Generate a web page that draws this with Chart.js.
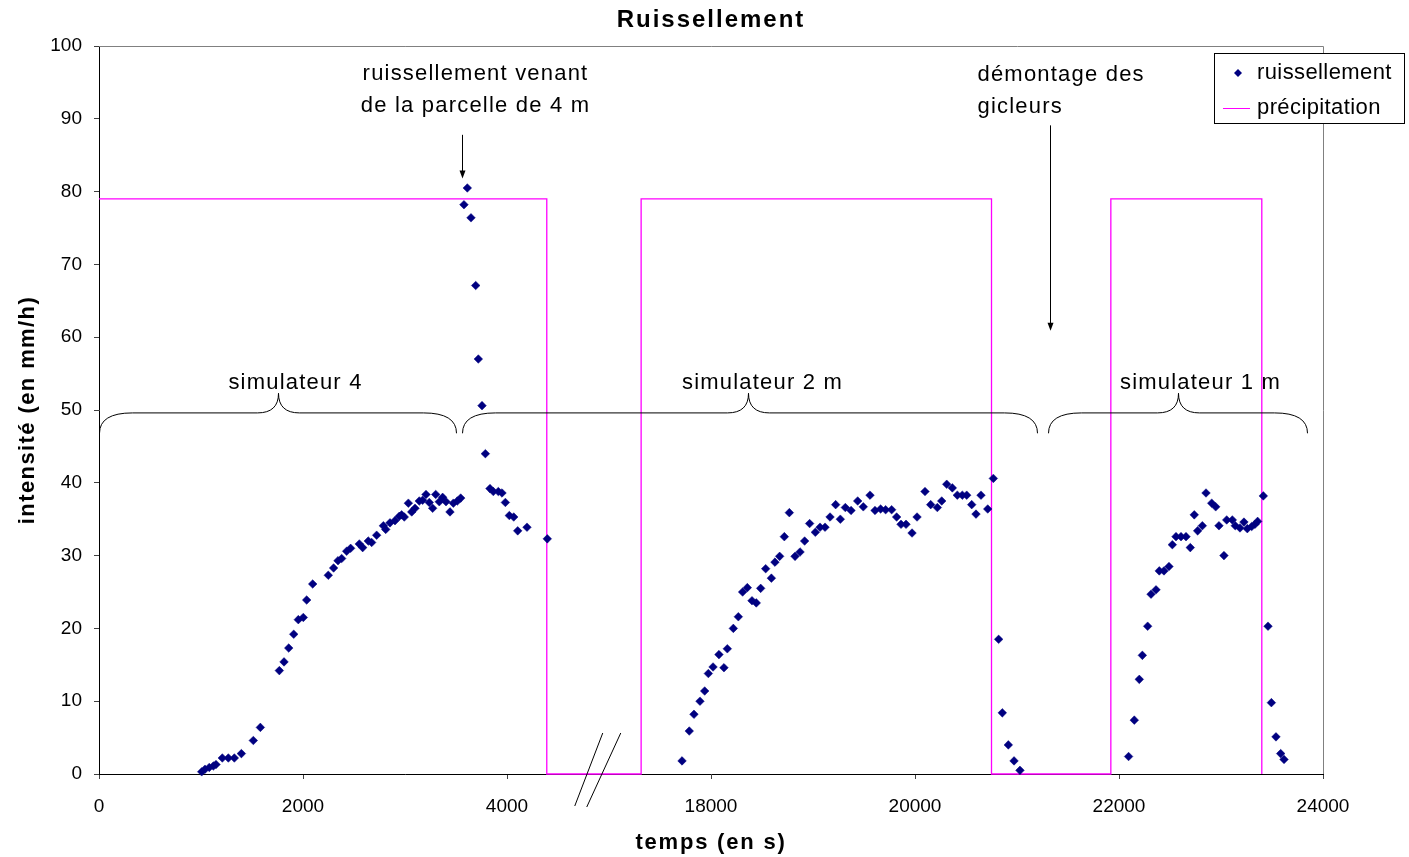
<!DOCTYPE html>
<html>
<head>
<meta charset="utf-8">
<script src="https://cdn.jsdelivr.net/npm/chart.js@4.4.0/dist/chart.umd.min.js"></script>
<style>
  body { margin: 0; background: #fff; }
  #wrap { width: 1409px; height: 857px; }
</style>
</head>
<body>
<div id="wrap"><canvas id="myChart" width="1409" height="857"></canvas></div>
<script>
// runoff measured at the outlet (s, mm/h)
const runoffTime = [
  1007, 1039, 1081, 1121, 1147, 1209, 1268, 1327, 1396, 1513, 1582, 1768, 1814, 1860, 1909,
  1954, 2003, 2036, 2095, 2248, 2300, 2343, 2379, 2428, 2467, 2552, 2585, 2640, 2673, 2722,
  2788, 2811, 2853, 2902, 2944, 2967, 2993, 3033, 3066, 3098, 3140, 3173, 3206, 3238, 3271,
  3301, 3336, 3369, 3402, 3441, 3474, 3513, 3546, 3578, 3611, 3647, 3693, 3719, 3755, 3788,
  3833, 3866, 3915, 3951, 3984, 4023, 4066, 4105, 4196, 4395,
  17716, 17787, 17833, 17892, 17938, 17974, 18020, 18078, 18127, 18160, 18219, 18268, 18310,
  18356, 18402, 18444, 18487, 18536, 18592, 18627, 18673, 18719, 18768, 18824, 18873, 18918,
  18967, 19023, 19069, 19118, 19167, 19222, 19268, 19317, 19373, 19438, 19493, 19559, 19608,
  19663, 19712, 19771, 19820, 19863, 19912, 19971, 20020, 20098, 20154, 20219, 20262, 20311,
  20366, 20415, 20464, 20507, 20556, 20598, 20647, 20713, 20768, 20820, 20856, 20915, 20971, 21029,
  22094, 22150, 22199, 22229, 22281, 22314, 22363, 22395, 22441, 22490, 22523, 22559, 22608,
  22657, 22699, 22738, 22771, 22817, 22853, 22909, 22948, 22980, 23029, 23056, 23111, 23140,
  23186, 23225, 23258, 23301, 23333, 23359, 23415, 23461, 23494, 23539, 23585, 23618
];
const runoffValue = [
  0.3, 0.65, 0.9, 1.1, 1.3, 2.2, 2.2, 2.2, 2.8, 4.6, 6.4, 14.2, 15.4, 17.3, 19.2,
  21.2, 21.5, 23.9, 26.1, 27.3, 28.3, 29.3, 29.6, 30.6, 31.0, 31.6, 31.1, 32.0, 31.8, 32.8,
  34.1, 33.6, 34.5, 34.8, 35.4, 35.6, 35.3, 37.2, 36.0, 36.5, 37.5, 37.6, 38.4, 37.3, 36.5,
  38.4, 37.4, 38.0, 37.4, 36.0, 37.2, 37.5, 37.9, 78.2, 80.5, 76.4, 67.1, 57.0, 50.6, 44.0,
  39.2, 38.8, 38.8, 38.6, 37.3, 35.5, 35.3, 33.4, 33.9, 32.3,
  1.8, 5.9, 8.2, 10.0, 11.4, 13.8, 14.7, 16.4, 14.6, 17.2, 20.0, 21.6, 25.0,
  25.6, 23.8, 23.5, 25.5, 28.2, 26.9, 29.1, 29.9, 32.6, 35.9, 29.9, 30.5, 32.0,
  34.4, 33.2, 33.9, 33.9, 35.3, 37.0, 35.0, 36.6, 36.2, 37.5, 36.7, 38.3, 36.2,
  36.4, 36.3, 36.3, 35.3, 34.3, 34.3, 33.1, 35.3, 38.8, 37.0, 36.6, 37.5, 39.8,
  39.3, 38.3, 38.3, 38.3, 37.0, 35.7, 38.3, 36.4, 40.6, 18.5, 8.4, 4.0, 1.8, 0.5,
  2.4, 7.4, 13.0, 16.3, 20.3, 24.7, 25.3, 27.9, 27.9, 28.5, 31.5, 32.6, 32.6,
  32.6, 31.1, 35.6, 33.4, 34.1, 38.6, 37.2, 36.7, 34.1, 30.0, 34.9, 34.9, 34.1,
  33.8, 34.6, 33.7, 34.0, 34.3, 34.7, 38.2, 20.3, 9.8, 5.1, 2.8, 2.0
];

// rainfall applied by the simulators (s, mm/h)
const rainTime = [0, 4390, 4390, 17315, 17315, 20750, 20750, 21920, 21920, 23400, 23400];
const rainValue = [79, 79, 0, 0, 79, 79, 0, 0, 79, 79, 0];

const xTicks = [0, 2000, 4000, 18000, 20000, 22000, 24000];
const yTicks = [0, 10, 20, 30, 40, 50, 60, 70, 80, 90, 100];

// the time axis is cut between 4000 s and 18000 s
const GAP = 12000;
function toAxis(t) { return t < 10000 ? t : t - GAP; }
function fromAxis(v) { return v <= 4000 ? v : v + GAP; }

const FONT = "'Liberation Sans', Arial, sans-serif";

function pts(times, values) {
  return times.map(function(t, i) { return { x: toAxis(t), y: values[i] }; });
}

function arrow(ctx, x, y0, y1) {
  ctx.beginPath();
  ctx.moveTo(x, y0);
  ctx.lineTo(x, y1 - 6);
  ctx.stroke();
  ctx.beginPath();
  ctx.moveTo(x - 3, y1 - 8);
  ctx.lineTo(x + 3, y1 - 8);
  ctx.lineTo(x, y1);
  ctx.closePath();
  ctx.fill();
}

function brace(ctx, x0, x1, xm, yEnd, yFlat, yTip) {
  const r = 33, r2 = 21;
  ctx.beginPath();
  ctx.moveTo(x0, yEnd);
  ctx.quadraticCurveTo(x0, yFlat, x0 + r, yFlat);
  ctx.lineTo(xm - r2, yFlat);
  ctx.quadraticCurveTo(xm, yFlat, xm, yTip);
  ctx.quadraticCurveTo(xm, yFlat, xm + r2, yFlat);
  ctx.lineTo(x1 - r, yFlat);
  ctx.quadraticCurveTo(x1, yFlat, x1, yEnd);
  ctx.stroke();
}

// text as in the original export is a bit wider than Arial, so add some spacing
function text(ctx, str, x, y, font, spacing) {
  ctx.font = font;
  ctx.letterSpacing = spacing + 'px';
  ctx.fillText(str, x, y);
  ctx.letterSpacing = '0px';
}

const annotations = {
  id: 'annotations',
  beforeDatasetsDraw(chart) {
    const { ctx, chartArea: a } = chart;
    ctx.save();
    ctx.strokeStyle = '#808080';
    ctx.lineWidth = 1;
    ctx.beginPath();
    ctx.moveTo(a.left, a.top + 0.5);
    ctx.lineTo(a.right + 0.5, a.top + 0.5);
    ctx.lineTo(a.right + 0.5, a.bottom);
    ctx.stroke();
    ctx.restore();
  },
  afterDatasetsDraw(chart) {
    const { ctx, chartArea: a } = chart;
    const xs = chart.scales.x, ys = chart.scales.y;
    const X = function(t) { return Math.round(xs.getPixelForValue(toAxis(t))) + 0.5; };
    const Y = function(v) { return ys.getPixelForValue(v); };
    const f = '22px ' + FONT;
    ctx.save();
    ctx.fillStyle = '#000';
    ctx.strokeStyle = '#000';
    ctx.lineWidth = 1;
    ctx.textBaseline = 'middle';

    // notes + arrows
    ctx.textAlign = 'center';
    text(ctx, 'ruissellement venant', X(3690), Y(96.2), f, 1.2);
    text(ctx, 'de la parcelle de 4 m', X(3690), Y(91.8), f, 1.2);
    arrow(ctx, X(3559), Y(87.8), Y(81.8));
    ctx.textAlign = 'left';
    text(ctx, 'démontage des', X(20608), Y(96.0), f, 1.2);
    text(ctx, 'gicleurs', X(20608), Y(91.6), f, 1.2);
    arrow(ctx, X(21324), Y(89.1), Y(60.9));

    // braces over each simulator run
    brace(ctx, X(0), X(3500), X(1755), Y(46.8), Y(49.6), Y(52.3));
    brace(ctx, X(3559), X(21196), X(18363), Y(46.8), Y(49.6), Y(52.3));
    brace(ctx, X(21304), X(23843), X(22578), Y(46.8), Y(49.6), Y(52.3));
    ctx.textAlign = 'center';
    text(ctx, 'simulateur 4', X(1922), Y(53.7), f, 1.2);
    text(ctx, 'simulateur 2 m', X(18500), Y(53.7), f, 1.2);
    text(ctx, 'simulateur 1 m', X(22794), Y(53.7), f, 1.2);

    // axis break marks
    const bx = xs.getPixelForValue(4880), by = a.bottom;
    ctx.beginPath();
    ctx.moveTo(bx + 6, by - 41); ctx.lineTo(bx - 22, by + 32);
    ctx.moveTo(bx + 24, by - 41); ctx.lineTo(bx - 10, by + 33);
    ctx.stroke();
    ctx.restore();
  },
  afterDraw(chart) {
    const { ctx, chartArea: a } = chart;
    const ds = chart.data.datasets;
    const bold = 'bold 22px ' + FONT;
    ctx.save();
    ctx.fillStyle = '#000';
    ctx.textBaseline = 'middle';
    ctx.textAlign = 'center';

    // titles
    text(ctx, 'Ruissellement', (a.left + a.right) / 2, 20, 'bold 24px ' + FONT, 2);
    text(ctx, 'temps (en s)', (a.left + a.right) / 2, 843, bold, 1.8);
    ctx.save();
    ctx.translate(28, (a.top + a.bottom) / 2);
    ctx.rotate(-Math.PI / 2);
    text(ctx, 'intensité (en mm/h)', 0, 0, bold, 1.4);
    ctx.restore();

    // legend box overlapping the plot frame
    ctx.fillStyle = '#fff';
    ctx.fillRect(1214, 53, 190, 70);
    ctx.strokeStyle = '#000';
    ctx.lineWidth = 1;
    ctx.strokeRect(1214.5, 53.5, 190, 70);
    ctx.fillStyle = ds[0].backgroundColor;
    ctx.beginPath();
    ctx.moveTo(1238, 69); ctx.lineTo(1242, 73); ctx.lineTo(1238, 77); ctx.lineTo(1234, 73);
    ctx.closePath();
    ctx.fill();
    ctx.strokeStyle = ds[1].borderColor;
    ctx.beginPath();
    ctx.moveTo(1223, 108.5); ctx.lineTo(1250, 108.5);
    ctx.stroke();
    ctx.fillStyle = '#000';
    ctx.textAlign = 'left';
    text(ctx, ds[0].label, 1257, 73, '22px ' + FONT, 0.4);
    text(ctx, ds[1].label, 1257, 108, '22px ' + FONT, 0.4);
    ctx.restore();
  }
};

const data = {
  datasets: [
    {
      label: 'ruissellement',
      data: pts(runoffTime, runoffValue),
      showLine: false,
      pointStyle: 'rectRot',
      pointRadius: 4.3,
      pointBorderWidth: 0.5,
      backgroundColor: '#000080',
      borderColor: '#000080',
      clip: 6
    },
    {
      label: 'précipitation',
      data: pts(rainTime, rainValue),
      showLine: true,
      pointRadius: 0,
      borderColor: '#FF00FF',
      backgroundColor: '#FF00FF',
      borderWidth: 1.3,
      tension: 0,
      clip: 4
    }
  ]
};

const config = {
  type: 'scatter',
  data: data,
  options: {
    responsive: false,
    animation: false,
    layout: { padding: { left: 0, right: 86, top: 46, bottom: 0 } },
    plugins: {
      legend: { display: false },
      tooltip: { enabled: false },
      title: { display: false }
    },
    scales: {
      x: {
        type: 'linear',
        min: 0,
        max: toAxis(24000),
        afterBuildTicks: function(scale) {
          scale.ticks = xTicks.map(function(t) { return { value: toAxis(t) }; });
        },
        afterFit: function(scale) { scale.height = 83; },
        ticks: {
          color: '#000',
          font: { family: FONT, size: 19 },
          padding: 16,
          maxRotation: 0,
          callback: function(v) { return String(fromAxis(v)); }
        },
        grid: { drawOnChartArea: false, drawTicks: true, tickLength: 5, color: '#404040' },
        border: { display: true, color: '#000', width: 1 }
      },
      y: {
        min: 0,
        max: 100,
        afterBuildTicks: function(scale) {
          scale.ticks = yTicks.map(function(v) { return { value: v }; });
        },
        afterFit: function(scale) { scale.width = 99; },
        ticks: {
          color: '#000',
          font: { family: FONT, size: 19 },
          padding: 12
        },
        grid: { drawOnChartArea: false, drawTicks: true, tickLength: 5, color: '#404040' },
        border: { display: true, color: '#000', width: 1 }
      }
    }
  },
  plugins: [annotations]
};

const myChart = new Chart(document.getElementById('myChart'), config);
</script>
</body>
</html>
